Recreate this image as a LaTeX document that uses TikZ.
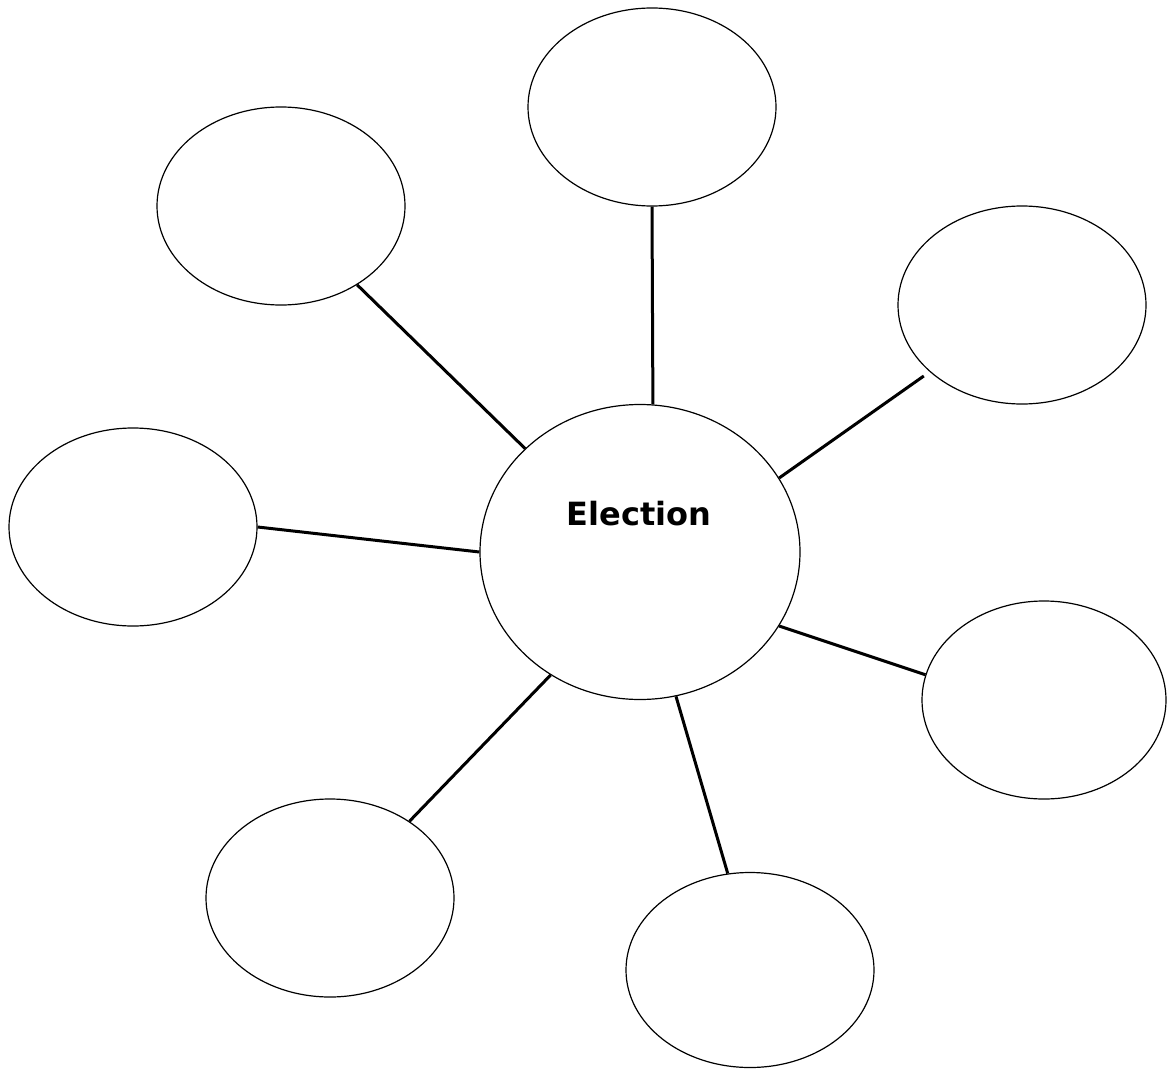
\documentclass[tikz,border=0pt]{standalone}
\usepackage{fontspec}
\newfontfamily\labelfont{DejaVu Sans}
\usetikzlibrary{shapes.geometric}
\tikzset{
  bubble/.style={ellipse, draw=black, line width=0.6pt, inner sep=0pt, minimum width=124pt, minimum height=99pt},
  hub/.style={ellipse, draw=black, line width=0.6pt, inner sep=0pt, minimum width=160pt, minimum height=147.5pt},
  spoke/.style={draw=black, line width=1.5pt}
}
\begin{document}
\begin{tikzpicture}[x=0.5pt,y=-0.5pt]
\useasboundingbox (0,0) rectangle (1167,1070);
\node[hub] (c) at (640,552) {};
\node[font=\labelfont\bfseries\fontsize{16}{18}\selectfont] (lbl) at (639,514) {Election};
\node[bubble] (t) at (652,107) {};
\node[bubble] (tl) at (281,206) {};
\node[bubble] (rt) at (1022,305) {};
\node[bubble] (l) at (133,527) {};
\node[bubble, minimum width=122pt] (rb) at (1044,700) {};
\node[bubble] (bl) at (330,898) {};
\node[bubble, minimum height=97.5pt] (b) at (750,970) {};
\draw[spoke] (t.270) -- (c.85);
\draw[spoke] (tl.314) -- (c.138.5);
\draw[spoke] ([shift={(-3pt,-2pt)}]rt.216.9) -- (c.28.8);
\draw[spoke] (l.0) -- (c.180);
\draw[spoke] (rb.168.4) -- (c.-28.5);
\draw[spoke] (bl.44) -- (c.234.8);
\draw[spoke] (b.103.9) -- (c.284);
\end{tikzpicture}
\end{document}
